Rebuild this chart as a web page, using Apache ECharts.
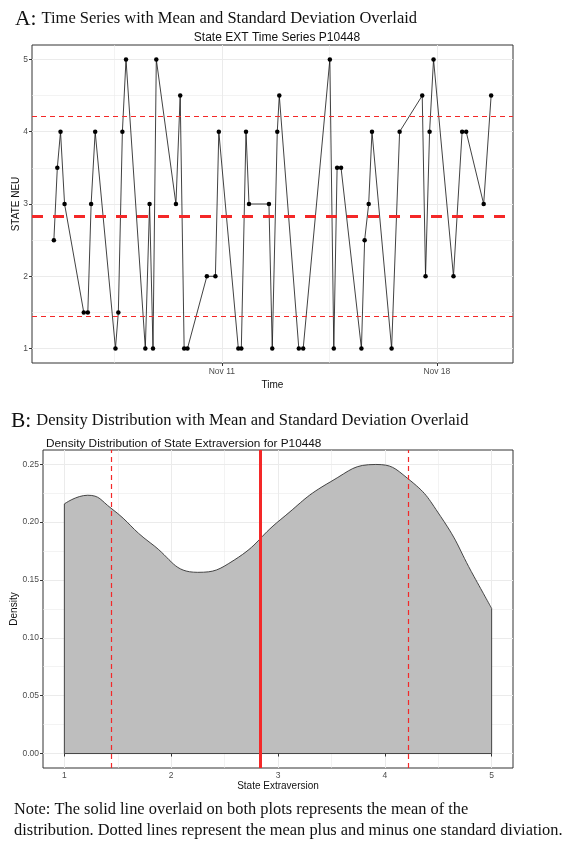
<!DOCTYPE html>
<html>
<head>
<meta charset="utf-8">
<script src="https://cdn.jsdelivr.net/npm/echarts@6/dist/echarts.min.js"></script>
<style>
  html, body { margin: 0; padding: 0; background: #fff; }
  #chart { width: 569px; height: 847px; }
</style>
</head>
<body>
<div id="chart"></div>
<script>
// time series (date/time of each prompt, STATE score)
var tsTimes = [
  '2019-11-05 12:48', '2019-11-05 15:30', '2019-11-05 18:00', '2019-11-05 21:10',
  '2019-11-06 12:10', '2019-11-06 15:20', '2019-11-06 17:55', '2019-11-06 21:05',
  '2019-11-07 12:55', '2019-11-07 15:10', '2019-11-07 18:20', '2019-11-07 21:10',
  '2019-11-08 12:15', '2019-11-08 15:35', '2019-11-08 18:15', '2019-11-08 20:50',
  '2019-11-09 12:10', '2019-11-09 15:30', '2019-11-09 18:35', '2019-11-09 21:10',
  '2019-11-10 12:20', '2019-11-10 19:00', '2019-11-10 21:40',
  '2019-11-11 12:55', '2019-11-11 15:15', '2019-11-11 18:55', '2019-11-11 21:15',
  '2019-11-12 12:50', '2019-11-12 15:25', '2019-11-12 19:20', '2019-11-12 20:55',
  '2019-11-13 12:10', '2019-11-13 15:35',
  '2019-11-14 12:25', '2019-11-14 15:30', '2019-11-14 18:05', '2019-11-14 21:10',
  '2019-11-15 13:05', '2019-11-15 15:35', '2019-11-15 18:45', '2019-11-15 21:20',
  '2019-11-16 12:40', '2019-11-16 18:55',
  '2019-11-17 12:35', '2019-11-17 15:10', '2019-11-17 18:20', '2019-11-17 21:25',
  '2019-11-18 13:00', '2019-11-18 19:45', '2019-11-18 22:55',
  '2019-11-19 12:35', '2019-11-19 18:25'
];
var tsValues = [
  2.5, 3.5, 4, 3,
  1.5, 1.5, 3, 4,
  1, 1.5, 4, 5,
  1, 3, 1, 5,
  3, 4.5, 1, 1,
  2, 2, 4,
  1, 1, 4, 3,
  3, 1, 4, 4.5,
  1, 1,
  5, 1, 3.5, 3.5,
  1, 2.5, 3, 4,
  1, 4,
  4.5, 2, 4, 5,
  2, 4, 4,
  3, 4.5
];
var tsBreaks = ['2019-11-11 00:00', '2019-11-18 00:00'];
var tsYTicks = [1, 2, 3, 4, 5];

// density curve
var densX = [1, 1.219, 1.437, 1.81, 2.248, 2.59, 3.027, 3.495, 3.916, 4.212, 4.524, 4.836, 5];
var densY = [0.2157, 0.2232, 0.212, 0.1817, 0.1566, 0.1672, 0.2024, 0.235, 0.2498, 0.2379, 0.2047, 0.1528, 0.1254];
var densXTicks = [1, 2, 3, 4, 5];
var densYTicks = [0, 0.05, 0.10, 0.15, 0.20, 0.25];

function toMs(s) {
  var p = s.split(/[- :]/).map(Number);
  return Date.UTC(p[0], p[1] - 1, p[2], p[3], p[4]);
}
var MONTHS = ['Jan','Feb','Mar','Apr','May','Jun','Jul','Aug','Sep','Oct','Nov','Dec'];
function fmtDay(v) {
  var d = new Date(v);
  return MONTHS[d.getUTCMonth()] + ' ' + d.getUTCDate();
}
function mids(a) {
  var r = [];
  for (var i = 0; i < a.length - 1; i++) r.push((a[i] + a[i + 1]) / 2);
  return r;
}

var tsData = tsTimes.map(function (t, i) { return [toMs(t), tsValues[i]]; });
var n = tsValues.length;
var mean = tsValues.reduce(function (a, b) { return a + b; }, 0) / n;
var sd = Math.sqrt(tsValues.reduce(function (a, b) { return a + (b - mean) * (b - mean); }, 0) / (n - 1));

var xBreaks = tsBreaks.map(toMs);
var tMin = tsData[0][0], tMax = tsData[n - 1][0];
var tPad = (tMax - tMin) * 0.05;
var day = 86400000;
var xMinor = [xBreaks[0] - 3.5 * day].concat(mids(xBreaks));

var densData = densX.map(function (x, i) { return [x, densY[i]]; });
var dMax = Math.max.apply(null, densY);

// axis ranges (ggplot style 5% expansion)
var A = { x0: tMin - tPad, x1: tMax + tPad, y0: 0.8, y1: 5.2 };
var B = { x0: 0.8, x1: 5.2, y0: -0.0125, y1: dMax + 0.0125 };

var GRID = '#ebebeb', BORDER = '#333333', TXT = '#4d4d4d', RED = '#f42828';
var SANS = 'Liberation Sans, Arial, sans-serif';
var SERIF = 'Liberation Serif, Times New Roman, serif';

function vseg(r, v) {
  return [{ coord: [v, r.y0] }, { coord: [v, r.y1] }];
}
function hseg(r, v) {
  return [{ coord: [r.x0, v] }, { coord: [r.x1, v] }];
}
function vline(v, w, dash) {
  return { xAxis: v, lineStyle: { color: RED, width: w, type: dash } };
}
function hline(v, w, dash) {
  return { yAxis: v, lineStyle: { color: RED, width: w, type: dash } };
}
// markLine has its own z (default 5), so pass it in
function lines(list, z, style) {
  return {
    silent: true, z: z, symbol: ['none', 'none'], label: { show: false }, animation: false,
    lineStyle: style, data: list
  };
}
var minorStyle = { color: GRID, width: 0.6, type: 'solid' };

function axisCommon(ticks, fmt, margin) {
  return {
    nameMoveOverlap: false,
    axisLine: { show: false },
    axisTick: { show: true, length: 3, customValues: ticks, lineStyle: { color: BORDER, width: 1 } },
    axisLabel: { customValues: ticks, color: TXT, fontSize: 8.5, fontFamily: SANS, margin: margin, formatter: fmt },
    splitLine: { show: true, lineStyle: { color: GRID, width: 1 } }
  };
}

var chart = echarts.init(document.getElementById('chart'), null, { renderer: 'canvas' });

var headRich = {
  a: { fontFamily: SERIF, fontSize: 21.5, fontWeight: 'normal', color: '#111' },
  t: { fontFamily: SERIF, fontSize: 16.5, fontWeight: 'normal', color: '#111' }
};

var option = {
  backgroundColor: '#ffffff',
  animation: false,
  title: [
    {
      text: '{a|A:} {t|Time Series with Mean and Standard Deviation Overlaid}',
      left: 10, top: 3,
      textStyle: { fontWeight: 'normal', rich: headRich }
    },
    {
      text: 'State EXT Time Series P10448',
      left: 272, top: 27, textAlign: 'center',
      textStyle: { fontFamily: SANS, fontSize: 12, fontWeight: 'normal', color: '#111' }
    },
    {
      text: '{a|B:} {t|Density Distribution with Mean and Standard Deviation Overlaid}',
      left: 6, top: 405,
      textStyle: { fontWeight: 'normal', rich: headRich }
    },
    {
      text: 'Density Distribution of State Extraversion for P10448',
      left: 41, top: 433,
      textStyle: { fontFamily: SANS, fontSize: 11.8, fontWeight: 'normal', color: '#111' }
    },
    {
      text: 'Note: The solid line overlaid on both plots represents the mean of the\ndistribution. Dotted lines represent the mean plus and minus one standard diviation.',
      left: 9, top: 794,
      textStyle: { fontFamily: SERIF, fontSize: 16.4, fontWeight: 'normal', color: '#111', lineHeight: 21 }
    }
  ],
  grid: [
    { left: 32, top: 45, width: 481, height: 318, outerBoundsMode: 'none', containLabel: false,
      show: true, borderColor: BORDER, borderWidth: 1, backgroundColor: 'transparent' },
    { left: 43, top: 450, width: 470, height: 318, outerBoundsMode: 'none', containLabel: false,
      show: true, borderColor: BORDER, borderWidth: 1, backgroundColor: 'transparent' }
  ],
  xAxis: [
    Object.assign({
      type: 'value', gridIndex: 0, min: A.x0, max: A.x1,
      name: 'Time', nameLocation: 'middle', nameGap: 17,
      nameTextStyle: { fontFamily: SANS, fontSize: 10, color: '#111' }
    }, axisCommon(xBreaks, fmtDay, 4)),
    Object.assign({
      type: 'value', gridIndex: 1, min: B.x0, max: B.x1,
      name: 'State Extraversion', nameLocation: 'middle', nameGap: 13,
      nameTextStyle: { fontFamily: SANS, fontSize: 10, color: '#111' }
    }, axisCommon(densXTicks, function (v) { return String(v); }, 3))
  ],
  yAxis: [
    Object.assign({
      type: 'value', gridIndex: 0, min: A.y0, max: A.y1,
      name: 'STATE NEU', nameLocation: 'middle', nameGap: 11, nameRotate: 90,
      nameTextStyle: { fontFamily: SANS, fontSize: 10, color: '#111' }
    }, axisCommon(tsYTicks, function (v) { return String(v); }, 4)),
    Object.assign({
      type: 'value', gridIndex: 1, min: B.y0, max: B.y1,
      name: 'Density', nameLocation: 'middle', nameGap: 24, nameRotate: 90,
      nameTextStyle: { fontFamily: SANS, fontSize: 10, color: '#111' }
    }, axisCommon(densYTicks, function (v) { return v.toFixed(2); }, 4))
  ],
  series: [
    // minor grid, panel A
    {
      type: 'line', xAxisIndex: 0, yAxisIndex: 0, data: [], z: 0, silent: true,
      markLine: lines(
        xMinor.map(function (v) { return vseg(A, v); })
          .concat(mids(tsYTicks).map(function (v) { return hseg(A, v); })), 0, minorStyle)
    },
    {
      type: 'line', xAxisIndex: 0, yAxisIndex: 0, data: tsData, z: 3,
      symbol: 'circle', symbolSize: 4.5, showSymbol: true,
      itemStyle: { color: '#000', borderWidth: 0 },
      lineStyle: { color: '#111', width: 0.8 },
      markLine: lines([
        hline(mean, 3, [11, 10]),
        hline(mean + sd, 1.2, [5, 4]),
        hline(mean - sd, 1.2, [5, 4])
      ], 6, { color: RED })
    },
    // minor grid, panel B
    {
      type: 'line', xAxisIndex: 1, yAxisIndex: 1, data: [], z: 0, silent: true,
      markLine: lines(
        mids(densXTicks).map(function (v) { return vseg(B, v); })
          .concat(mids(densYTicks).map(function (v) { return hseg(B, v); })), 0, minorStyle)
    },
    {
      type: 'line', xAxisIndex: 1, yAxisIndex: 1, data: densData, z: 2,
      smooth: 0.5, showSymbol: false, symbol: 'none',
      lineStyle: { color: '#333', width: 0.9 },
      areaStyle: { color: '#bebebe', opacity: 1, origin: 0 },
      markLine: lines([
        vline(mean, 3, 'solid'),
        vline(mean + sd, 1.2, [5, 4]),
        vline(mean - sd, 1.2, [5, 4])
      ], 6, { color: RED })
    },
    {
      type: 'line', xAxisIndex: 1, yAxisIndex: 1, z: 3, symbol: 'none',
      data: [densData[0], [densX[0], 0], [densX[densX.length - 1], 0], densData[densData.length - 1]],
      lineStyle: { color: '#333', width: 0.9 }
    }
  ]
};

chart.setOption(option);
</script>
</body>
</html>
